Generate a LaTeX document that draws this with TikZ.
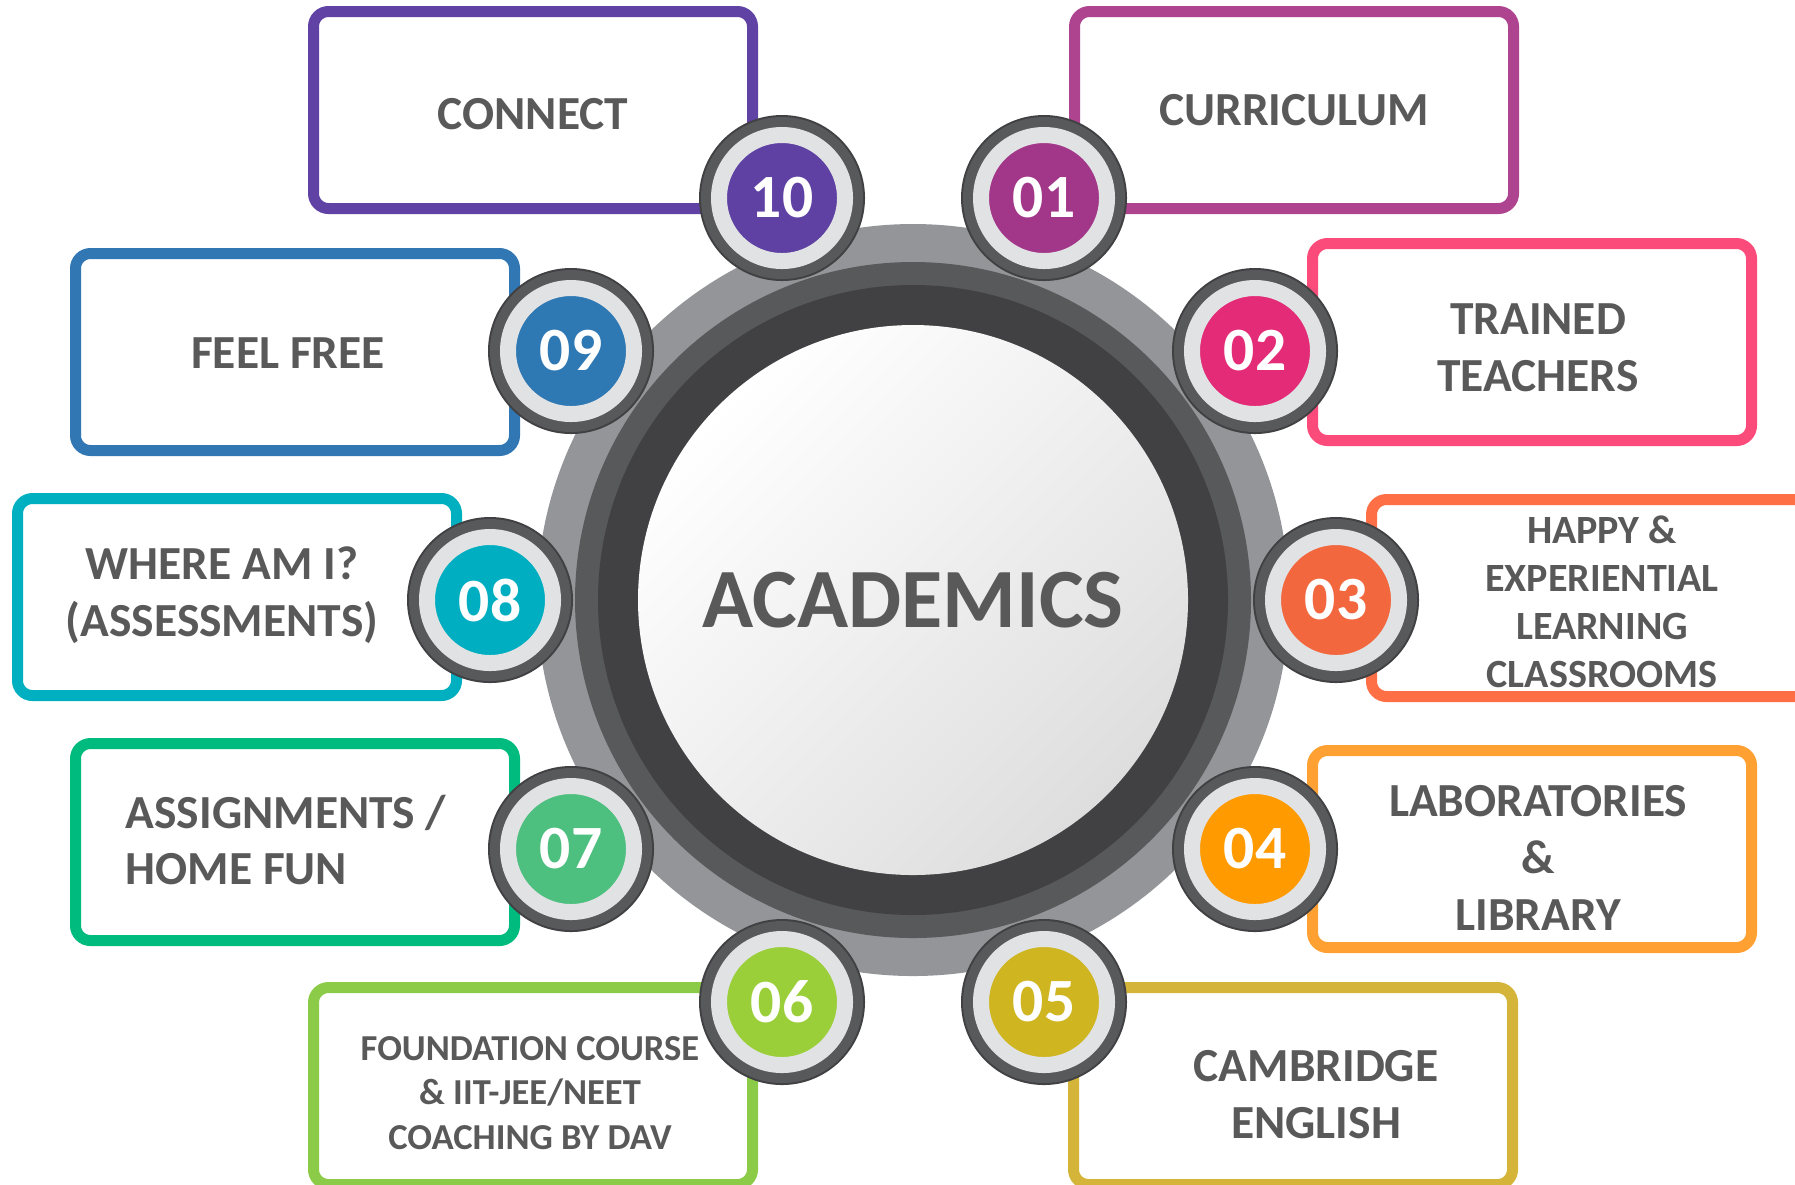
\documentclass[tikz,border=0pt]{standalone}
\usepackage{fontspec}
\setmainfont{Carlito}
\definecolor{ink}{HTML}{595959}
\definecolor{hubgrey}{HTML}{939598}
\definecolor{ringdark}{HTML}{58595B}
\definecolor{ringedge}{HTML}{414042}
\definecolor{ringlight}{HTML}{E1E2E3}
% box borders
\definecolor{bConnect}{HTML}{6042A4}
\definecolor{bCurr}{HTML}{AE4490}
\definecolor{bTrained}{HTML}{FB4B7A}
\definecolor{bHappy}{HTML}{FF6F45}
\definecolor{bLab}{HTML}{FFA033}
\definecolor{bCamb}{HTML}{D4B53A}
\definecolor{bFound}{HTML}{8CCB47}
\definecolor{bAssign}{HTML}{00BB7E}
\definecolor{bWhere}{HTML}{00AFC0}
\definecolor{bFeel}{HTML}{3177B3}
% badge fills
\definecolor{c01}{HTML}{A23789}
\definecolor{c02}{HTML}{E32B77}
\definecolor{c03}{HTML}{F2673E}
\definecolor{c04}{HTML}{FF9A00}
\definecolor{c05}{HTML}{CFB51F}
\definecolor{c06}{HTML}{9BCF3A}
\definecolor{c07}{HTML}{4DBF7F}
\definecolor{c08}{HTML}{00AEC1}
\definecolor{c09}{HTML}{2E78B4}
\definecolor{c10}{HTML}{5F41A3}
\begin{document}
\begin{tikzpicture}[x=0.1mm, y=-0.1mm,
  box/.style = {draw, rounded corners=1.5mm, line width=1.1mm, fill=white, minimum width=43.9mm, minimum height=19.7mm},
  tag/.style = {align=center, text=ink, inner sep=0pt, font=\fontsize{13.5}{16.2}\selectfont\bfseries},
  badge/.style = {circle, minimum size=12.6mm, inner sep=0pt, draw=ringlight, line width=1.6mm, preaction={draw=ringedge, line width=4mm}, preaction={draw=ringdark, line width=3.6mm}, text=white, font=\fontsize{17.5}{20}\selectfont\bfseries},
  disc/.style = {circle, inner sep=0pt}]
\useasboundingbox (0,0) rectangle (1795,1184);
% boxes
\node[box, draw=bConnect] (connect) at (533,110) {};
\node[box, draw=bCurr] (curr) at (1294,110) {};
\node[box, draw=bTrained] (trained) at (1532,342) {};
\node[box, draw=bHappy] (happy) at (1591,598) {};
\node[box, draw=bLab] (lab) at (1532,849) {};
\node[box, draw=bCamb] (camb) at (1293,1086) {};
\node[box, draw=bFound] (found) at (533,1086) {};
\node[box, draw=bAssign] (assign) at (295,842) {};
\node[box, draw=bWhere] (where) at (237,597) {};
\node[box, draw=bFeel] (feel) at (295,352) {};
% box texts
\node[tag] (connect-t) at ([shift={(0,4)}]connect.center) {CONNECT};
\node[tag] (curr-t) at ([shift={(0,0)}]curr.center) {CURRICULUM};
\node[tag] (trained-t) at ([shift={(6,6)}]trained.center) {TRAINED\\TEACHERS};
\node[tag, font=\fontsize{11.4}{13.7}\selectfont\bfseries] (happy-t) at ([shift={(11,4)}]happy.center) {HAPPY \&\\EXPERIENTIAL\\LEARNING\\CLASSROOMS};
\node[tag] (lab-t) at ([shift={(6,9)}]lab.center) {LABORATORIES\\\&\\LIBRARY};
\node[tag] (camb-t) at ([shift={(23,9)}]camb.center) {CAMBRIDGE\\ENGLISH};
\node[tag, font=\fontsize{10.4}{12.7}\selectfont\bfseries] (found-t) at ([shift={(-3,7)}]found.center) {FOUNDATION COURSE\\\& IIT-JEE/NEET\\COACHING BY DAV};
\node[tag, align=left] (assign-t) at ([shift={(-9,-2)}]assign.center) {ASSIGNMENTS /\\HOME FUN};
\node[tag] (where-t) at ([shift={(-15,-2)}]where.center) {WHERE AM I?\\(ASSESSMENTS)};
\node[tag] (feel-t) at ([shift={(-7,1)}]feel.center) {FEEL FREE};
% hub
\node[disc, fill=hubgrey, minimum size=75.2mm] (hub) at (913,600) {};
\node[disc, fill=ringdark, minimum size=67.6mm] (rim) at (hub) {};
\node[disc, fill=ringedge, minimum size=63mm] (rimin) at (hub) {};
\node[disc, minimum size=55mm, top color=white, bottom color=black!13, shading angle=45, text=ink, font=\fontsize{24}{28}\selectfont\bfseries] (core) at (hub) {ACADEMICS};
% badges
\node[badge, fill=c01] (n01) at (1044,198) {01};
\node[badge, fill=c02] (n02) at (1255,351) {02};
\node[badge, fill=c03] (n03) at (1336,600) {03};
\node[badge, fill=c04] (n04) at (1255,849) {04};
\node[badge, fill=c05] (n05) at (1044,1002) {05};
\node[badge, fill=c06] (n06) at (782,1002) {06};
\node[badge, fill=c07] (n07) at (571,849) {07};
\node[badge, fill=c08] (n08) at (490,600) {08};
\node[badge, fill=c09] (n09) at (571,351) {09};
\node[badge, fill=c10] (n10) at (782,198) {10};
\end{tikzpicture}
\end{document}
